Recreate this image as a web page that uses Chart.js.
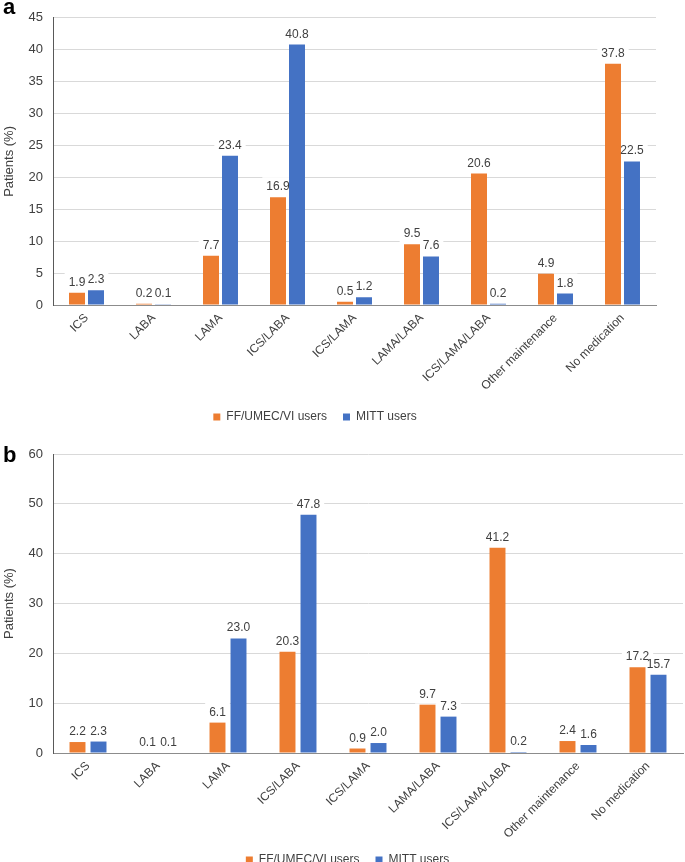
<!DOCTYPE html>
<html>
<head>
<meta charset="utf-8">
<script src="https://cdn.jsdelivr.net/npm/chart.js@4.4.1/dist/chart.umd.min.js"></script>
<style>
  html, body { margin: 0; padding: 0; background: #fff; overflow: hidden; width: 685px; height: 862px; }
  .wrap { position: absolute; left: 0; width: 685px; }
  #wa { top: 0; height: 433px; }
  #wb { top: 433px; height: 443px; }
</style>
</head>
<body>
<div class="wrap" id="wa"><canvas id="ca"></canvas></div>
<div class="wrap" id="wb"><canvas id="cb"></canvas></div>
<script>
const categories = ['ICS', 'LABA', 'LAMA', 'ICS/LABA', 'ICS/LAMA', 'LAMA/LABA', 'ICS/LAMA/LABA', 'Other maintenance', 'No medication'];
const seriesNames = ['FF/UMEC/VI users', 'MITT users'];
const panelA_ff = [1.9, 0.2, 7.7, 16.9, 0.5, 9.5, 20.6, 4.9, 37.8];
const panelA_mitt = [2.3, 0.1, 23.4, 40.8, 1.2, 7.6, 0.2, 1.8, 22.5];
const panelB_ff = [2.2, 0.1, 6.1, 20.3, 0.9, 9.7, 41.2, 2.4, 17.2];
const panelB_mitt = [2.3, 0.1, 23.0, 47.8, 2.0, 7.3, 0.2, 1.6, 15.7];
const panelA_yMax = 45, panelA_yStep = 5;
const panelB_yMax = 60, panelB_yStep = 10;

const FONT = "'Liberation Sans', Arial, Helvetica, sans-serif";
const ORANGE = '#ED7D31';
const BLUE = '#4472C4';
const TEXT = '#404040';

function labelItems(chart, ctx) {
  const items = [];
  chart.data.datasets.forEach((ds, i) => {
    const meta = chart.getDatasetMeta(i);
    meta.data.forEach((el, j) => {
      const t = Number(ds.data[j]).toFixed(1);
      items.push({ x: el.x, top: el.y, y: el.y - 7, t, w: ctx.measureText(t).width });
    });
  });
  return items;
}

const valueLabels = {
  id: 'valueLabels',
  beforeDatasetsDraw(chart) {
    const ctx = chart.ctx;
    ctx.save();
    ctx.font = '12px ' + FONT;
    ctx.fillStyle = '#fff';
    labelItems(chart, ctx).forEach(it => {
      ctx.fillRect(it.x - it.w / 2 - 4, it.y - 13, it.w + 8, it.top - (it.y - 13) - 1);
    });
    ctx.restore();
  },
  afterDatasetsDraw(chart) {
    const ctx = chart.ctx;
    ctx.save();
    ctx.font = '12px ' + FONT;
    ctx.textAlign = 'center';
    ctx.textBaseline = 'alphabetic';
    ctx.fillStyle = TEXT;
    labelItems(chart, ctx).forEach(it => ctx.fillText(it.t, it.x, it.y));
    ctx.restore();
  }
};

const panelLetter = {
  id: 'panelLetter',
  afterDraw(chart, args, opts) {
    const ctx = chart.ctx;
    ctx.save();
    ctx.font = 'bold 22px ' + FONT;
    ctx.fillStyle = '#000';
    ctx.textAlign = 'left';
    ctx.textBaseline = 'alphabetic';
    ctx.fillText(opts.text, opts.x, opts.y);
    ctx.restore();
  }
};

const legendShift = {
  id: 'legendShift',
  afterLayout(chart, args, opts) {
    if (chart.legend) {
      chart.legend.left += opts.dx;
      chart.legend.right += opts.dx;
    }
  }
};

function makeChart(id, ff, mitt, yMax, yStep, cfg) {
  return new Chart(document.getElementById(id), {
    type: 'bar',
    data: {
      labels: categories,
      datasets: [
        { label: seriesNames[0], data: ff, backgroundColor: ORANGE, borderWidth: 0,
          categoryPercentage: cfg.catPct, barPercentage: cfg.barPct },
        { label: seriesNames[1], data: mitt, backgroundColor: BLUE, borderWidth: 0,
          categoryPercentage: cfg.catPct, barPercentage: cfg.barPct }
      ]
    },
    options: {
      responsive: true,
      maintainAspectRatio: false,
      animation: false,
      layout: { padding: { top: cfg.padTop, right: cfg.padRight, left: 0, bottom: 0 } },
      plugins: {
        legend: {
          position: 'bottom',
          labels: {
            boxWidth: 7, boxHeight: 7, padding: 16,
            color: TEXT, font: { family: FONT, size: 12 }
          }
        },
        tooltip: { enabled: false },
        panelLetter: { text: cfg.letter, x: 3, y: cfg.letterY },
        legendShift: { dx: cfg.legendDx }
      },
      scales: {
        x: {
          grid: { display: false, drawTicks: false },
          border: { display: true, color: '#8c8c8c', width: 1 },
          ticks: {
            color: TEXT, font: { family: FONT, size: 12 },
            maxRotation: 45, minRotation: 45, autoSkip: false, padding: 6
          },
          afterFit(scale) { scale.height = cfg.xHeight; }
        },
        y: {
          min: 0, max: yMax,
          grid: { color: '#d9d9d9', lineWidth: 1, drawTicks: false },
          border: { display: true, color: '#595959', width: 1 },
          ticks: { stepSize: yStep, color: TEXT, font: { family: FONT, size: 13 }, padding: 10 },
          title: { display: true, text: 'Patients (%)', color: TEXT,
                   font: { family: FONT, size: 13 }, padding: { top: 2, bottom: 0 } },
          afterFit(scale) { scale.width = 53; }
        }
      }
    },
    plugins: [valueLabels, panelLetter, legendShift]
  });
}

makeChart('ca', panelA_ff, panelA_mitt, panelA_yMax, panelA_yStep, {
  catPct: 0.567, barPct: 0.842, padTop: 11, padRight: 29, xHeight: 90,
  letter: 'a', letterY: 14, legendDx: -13
});
makeChart('cb', panelB_ff, panelB_mitt, panelB_yMax, panelB_yStep, {
  catPct: 0.6, barPct: 0.76, padTop: 21, padRight: 2, xHeight: 85,
  letter: 'b', letterY: 29, legendDx: 6
});
</script>
</body>
</html>
